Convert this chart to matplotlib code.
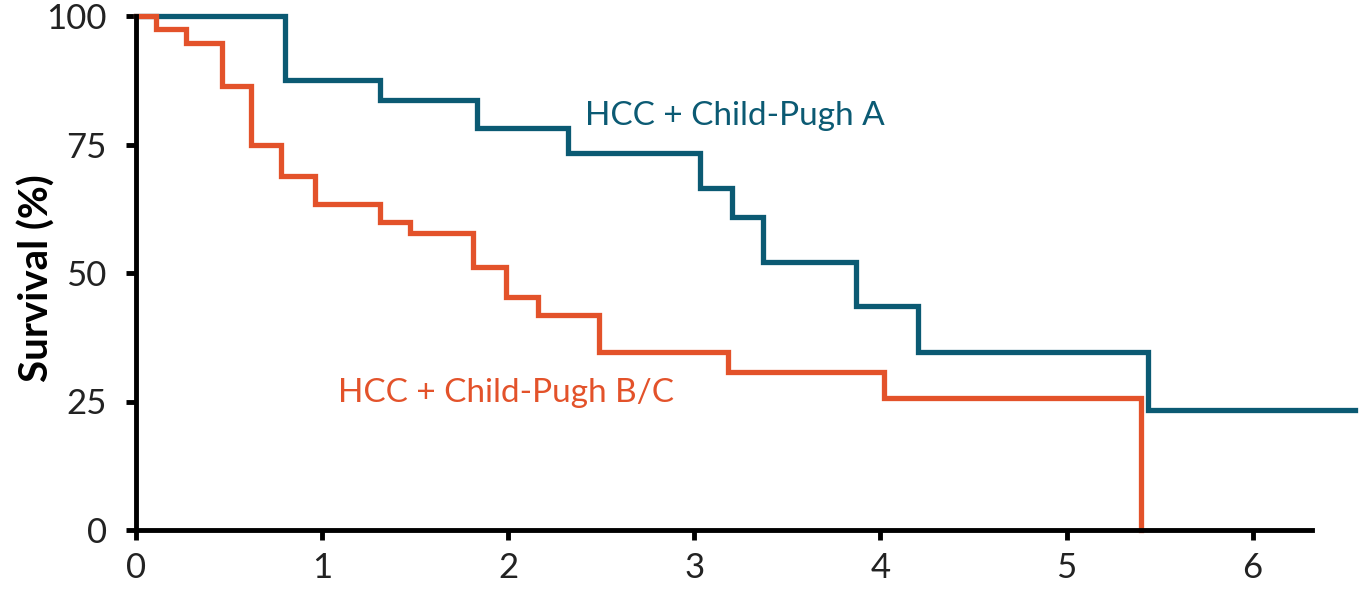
import matplotlib.pyplot as plt

plt.rcParams['font.family'] = ['Lato', 'DejaVu Sans']

# Kaplan-Meier steps (years, % surviving)
years_a = [0, 0.80, 1.31, 1.83, 2.32, 3.03, 3.20, 3.37, 3.87, 4.20, 5.44, 6.55]
surv_a = [100, 87.5, 83.6, 78.2, 73.3, 66.5, 60.9, 52.1, 43.6, 34.6, 23.3, 23.3]

years_bc = [0, 0.11, 0.27, 0.46, 0.62, 0.78, 0.96, 1.31, 1.47, 1.81, 1.99,
            2.16, 2.49, 3.18, 4.02, 5.40]
surv_bc = [100, 97.5, 94.7, 86.4, 74.9, 68.9, 63.4, 59.9, 57.8, 51.2, 45.3,
           41.8, 34.6, 30.7, 25.7, 0]

x_ticks = [0, 1, 2, 3, 4, 5, 6]
y_ticks = [0, 25, 50, 75, 100]

blue = '#0b5a73'
orange = '#e3522a'

fig = plt.figure(figsize=(13.63, 5.90), dpi=100)
ax = fig.add_axes([136 / 1363, 60 / 590, 1219 / 1363, 514 / 590])

ax.step(years_a, surv_a, where='post', color=blue, lw=3.8, clip_on=False,
        solid_joinstyle='miter')
ax.step(years_bc, surv_bc, where='post', color=orange, lw=3.8, clip_on=False,
        solid_joinstyle='miter')

ax.text(2.41, 78.8, 'HCC + Child-Pugh A', color=blue, fontsize=24,
        ha='left', va='baseline')
ax.text(1.086, 24.9, 'HCC + Child-Pugh B/C', color=orange, fontsize=24,
        ha='left', va='baseline')

ax.set_xlim(0, 6.55)
ax.set_ylim(0, 100)
ax.set_xticks(x_ticks)
ax.set_yticks(y_ticks)

for s in ['top', 'right']:
    ax.spines[s].set_visible(False)
for s in ['left', 'bottom']:
    ax.spines[s].set_linewidth(3.5)
ax.spines['bottom'].set_bounds(0, 6.32)
ax.spines['left'].set_bounds(0, 100)

ax.tick_params(axis='both', width=3.5, length=7, labelsize=25,
               labelcolor='#222222')
ax.tick_params(axis='x', pad=9)
ax.tick_params(axis='y', pad=14)

ax.set_ylabel('Survival (%)', fontsize=29, fontweight='bold')
ax.yaxis.set_label_coords(-0.066, 0.49)

fig.savefig('out.png', dpi=100)
